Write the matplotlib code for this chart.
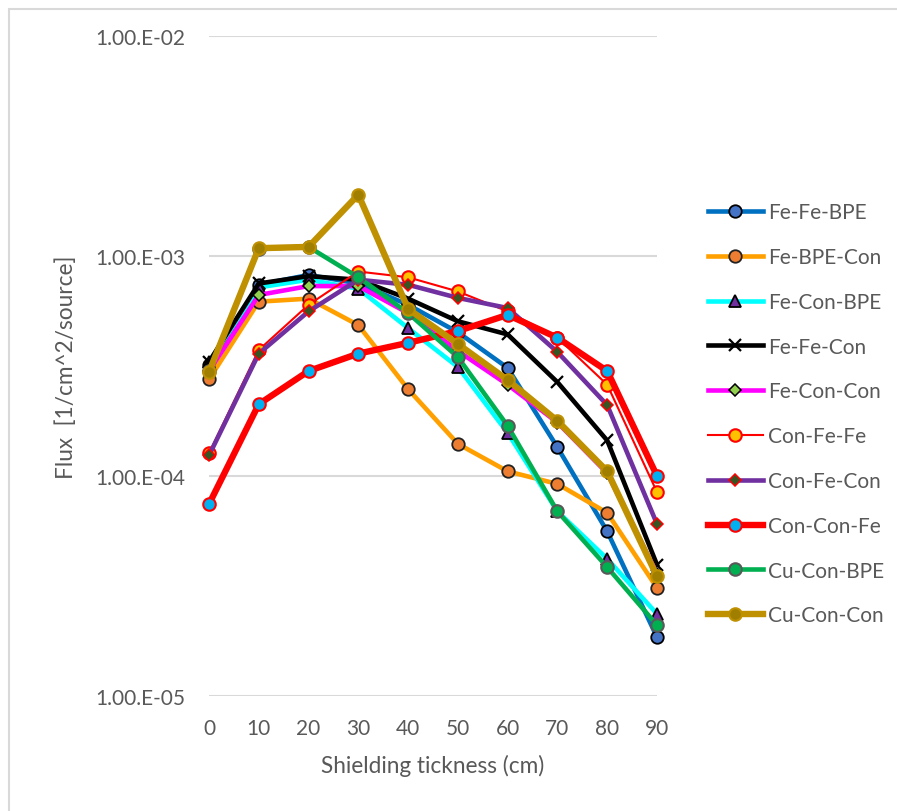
import numpy as np
import matplotlib.pyplot as plt
from matplotlib.patches import Rectangle

plt.rcParams['font.family'] = ['Lato', 'DejaVu Sans']

thickness = [0, 10, 20, 30, 40, 50, 60, 70, 80, 90]

fe_fe_bpe = [3.2e-4, 7.4e-4, 8.2e-4, 7.5e-4, 6.0e-4, 4.5e-4, 3.1e-4, 1.35e-4, 5.6e-5, 1.85e-5]
fe_bpe_con = [2.75e-4, 6.2e-4, 6.4e-4, 4.85e-4, 2.48e-4, 1.4e-4, 1.05e-4, 9.2e-5, 6.8e-5, 3.1e-5]
fe_con_bpe = [3.3e-4, 7.2e-4, 7.8e-4, 7.1e-4, 4.7e-4, 3.13e-4, 1.57e-4, 6.9e-5, 4.2e-5, 2.36e-5]
fe_fe_con = [3.3e-4, 7.5e-4, 8.1e-4, 7.8e-4, 6.4e-4, 5.05e-4, 4.4e-4, 2.67e-4, 1.45e-4, 3.95e-5]
fe_con_con = [3.0e-4, 6.65e-4, 7.3e-4, 7.3e-4, 5.5e-4, 3.7e-4, 2.6e-4, 1.75e-4, 1.03e-4, 3.6e-5]
con_fe_fe = [1.27e-4, 3.74e-4, 6.0e-4, 8.5e-4, 8.0e-4, 6.9e-4, 5.6e-4, 4.25e-4, 2.6e-4, 8.45e-5]
con_fe_con = [1.24e-4, 3.6e-4, 5.6e-4, 7.8e-4, 7.4e-4, 6.45e-4, 5.8e-4, 3.66e-4, 2.1e-4, 6.05e-5]
con_con_fe = [7.45e-5, 2.12e-4, 3.0e-4, 3.6e-4, 4.03e-4, 4.56e-4, 5.4e-4, 4.25e-4, 3.0e-4, 1.0e-4]
cu_con_bpe = [3.0e-4, 1.08e-3, 1.1e-3, 8.0e-4, 5.5e-4, 3.47e-4, 1.69e-4, 6.9e-5, 3.85e-5, 2.1e-5]
cu_con_con = [2.97e-4, 1.085e-3, 1.1e-3, 1.9e-3, 5.75e-4, 3.98e-4, 2.73e-4, 1.78e-4, 1.05e-4, 3.5e-5]

series = [
    ('Fe-Fe-BPE', fe_fe_bpe, dict(color='#0070C0', lw=3.3, marker='o', ms=9, mfc='#4472C4', mec='black', mew=1.3)),
    ('Fe-BPE-Con', fe_bpe_con, dict(color='#FFA000', lw=3.3, marker='o', ms=9, mfc='#ED7D31', mec='#222222', mew=1.3)),
    ('Fe-Con-BPE', fe_con_bpe, dict(color='#00FFFF', lw=3.3, marker='^', ms=8, mfc='#7030A0', mec='black', mew=1.3)),
    ('Fe-Fe-Con', fe_fe_con, dict(color='black', lw=3.3, marker='x', ms=8, mec='black', mew=1.6)),
    ('Fe-Con-Con', fe_con_con, dict(color='#FF00FF', lw=3.3, marker='D', ms=6.5, mfc='#92D050', mec='black', mew=1.1)),
    ('Con-Fe-Fe', con_fe_fe, dict(color='#FF0000', lw=1.5, marker='o', ms=9, mfc='#FFC000', mec='#FF0000', mew=1.5)),
    ('Con-Fe-Con', con_fe_con, dict(color='#7030A0', lw=3.3, marker='D', ms=6.5, mfc='#375623', mec='#FF0000', mew=1.1)),
    ('Con-Con-Fe', con_con_fe, dict(color='#FF0000', lw=4.6, marker='o', ms=9, mfc='#00B0F0', mec='#FF0000', mew=1.5)),
    ('Cu-Con-BPE', cu_con_bpe, dict(color='#00B050', lw=3.3, marker='o', ms=9, mfc='#00B050', mec='#595959', mew=1.5)),
    ('Cu-Con-Con', cu_con_con, dict(color='#BF9000', lw=4.6, marker='o', ms=9, mfc='#A07F00', mec='#BF9000', mew=1.5)),
]

fig = plt.figure(figsize=(8.97, 8.12), dpi=100)
ax = fig.add_axes([209/897, 1 - 697/812, 448/897, 660/812])

for name, vals, style in series:
    ax.plot(thickness, vals, label=name, clip_on=False, **style)

ax.set_yscale('log')
ax.set_ylim(1e-5, 1e-2)
ax.set_xlim(0, 90)
ax.set_xticks(thickness)
ax.set_yticks([1e-5, 1e-4, 1e-3, 1e-2])
ax.set_yticklabels(['1.00.E-05', '1.00.E-04', '1.00.E-03', '1.00.E-02'])
ax.yaxis.set_minor_locator(plt.NullLocator())
ax.tick_params(length=0, labelsize=15, colors='#595959')
ax.tick_params(axis='y', pad=17)
ax.tick_params(axis='x', pad=16)
ax.grid(axis='y', color='#D9D9D9', lw=1.5)
ax.set_axisbelow(True)
for s in ax.spines.values():
    s.set_visible(False)

ax.set_xlabel('Shielding tickness (cm)', fontsize=16.3, color='#595959', labelpad=11)
ax.set_ylabel('Flux  [1/cm^2/source]', fontsize=16.3, color='#595959', labelpad=13)

fig.legend(loc='upper left', bbox_to_anchor=(700/897, 1 - 195/812), frameon=False,
           fontsize=15, labelcolor='#595959', handlelength=2.6, handletextpad=0.25,
           labelspacing=1.19, borderaxespad=0)

# chart area border
fig.patches.append(Rectangle((9/897, -0.1), 1.2, 1 - 10/812 + 0.1, transform=fig.transFigure,
                             fill=False, ec='#D9D9D9', lw=1.5))

fig.savefig('out.png', dpi=100)
